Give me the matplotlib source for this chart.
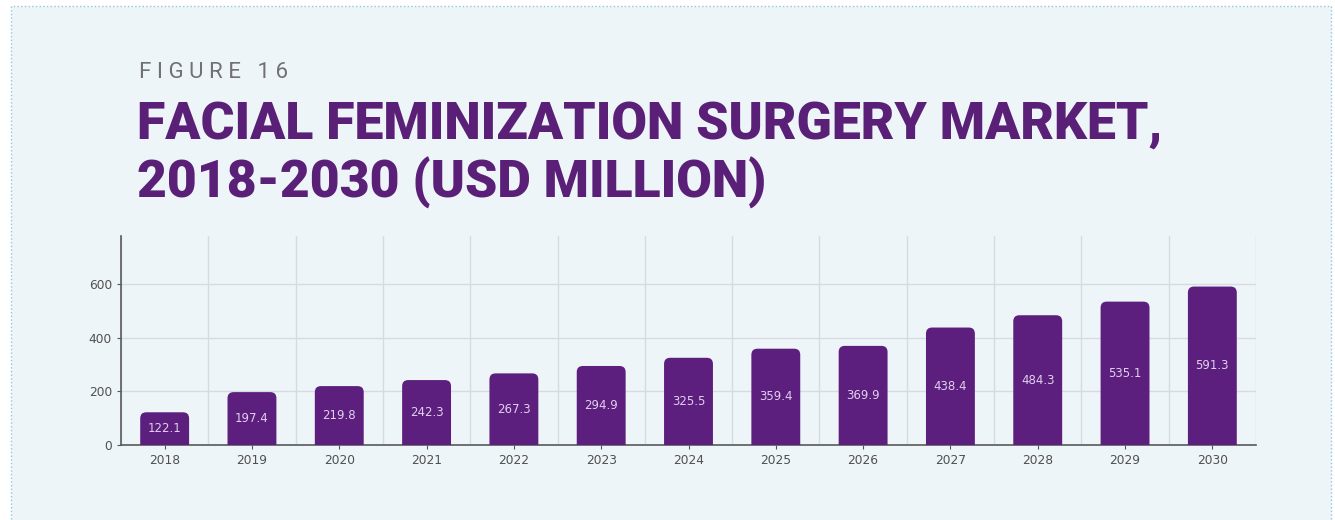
import numpy as np
import matplotlib.pyplot as plt
from matplotlib.patches import FancyBboxPatch, Rectangle

# 数据
years = ['2018', '2019', '2020', '2021', '2022', '2023', '2024',
         '2025', '2026', '2027', '2028', '2029', '2030']
market = [122.1, 197.4, 219.8, 242.3, 267.3, 294.9, 325.5,
          359.4, 369.9, 438.4, 484.3, 535.1, 591.3]
yticks = [0, 200, 400, 600]

purple = '#5c1f7d'
bg = '#eef5f8'

fig = plt.figure(figsize=(13.35, 5.2), dpi=100, facecolor='white')
W, H = 1335, 520

# 背景框
fig.patches.append(Rectangle((11 / W, -0.05), (1331 - 11) / W, (514 + 26) / H,
                             transform=fig.transFigure, facecolor=bg,
                             edgecolor='#8ec8e0', linestyle=':', linewidth=1.0, zorder=-5))

fig.text(139 / W, 1 - 73 / H, 'F I G U R E   1 6', fontsize=16, color='#707075',
         family='Roboto', va='center', ha='left')
fig.text(137 / W, 1 - 125 / H, 'FACIAL FEMINIZATION SURGERY MARKET,', fontsize=37.3,
         color='#5a2078', family='Roboto', weight='black', va='center', ha='left')
fig.text(137 / W, 1 - 183 / H, '2018-2030 (USD MILLION)', fontsize=37.3,
         color='#5a2078', family='Roboto', weight='black', va='center', ha='left')

ax = fig.add_axes([121 / W, 1 - 445 / H, (1256 - 121) / W, (445 - 236) / H])
ax.set_facecolor('none')
x = np.arange(len(years))
bars = ax.bar(x, market, width=0.56, color='none')

ax.set_xlim(-0.5, len(years) - 0.5)
ax.set_ylim(0, 780)

# 圆角柱
aspect = (780 / 209) / (len(years) / 1135)
for b, v in zip(bars, market):
    p = FancyBboxPatch((b.get_x(), -40), b.get_width(), v + 40,
                       boxstyle='round,pad=0,rounding_size=0.07',
                       mutation_aspect=aspect, facecolor=purple, edgecolor='none', zorder=3)
    ax.add_patch(p)
    ax.text(b.get_x() + b.get_width() / 2, v / 2, f'{v:.1f}', ha='center', va='center',
            color='#e2cff0', fontsize=8.5, zorder=4)

ax.set_xticks(x)
ax.set_xticklabels(years)
ax.set_yticks(yticks)
ax.set_xticks(np.arange(-0.5, len(years), 1), minor=True)
ax.grid(axis='x', which='minor', color='#d5dbde', linewidth=1)
ax.grid(axis='y', which='major', color='#d5dbde', linewidth=1)
ax.set_axisbelow(True)
ax.tick_params(axis='x', which='minor', length=0)
ax.tick_params(axis='both', which='major', labelsize=8.8, labelcolor='#505050',
               color='#555555', length=3, width=0.8)
for s in ['top', 'right']:
    ax.spines[s].set_visible(False)
for s in ['left', 'bottom']:
    ax.spines[s].set_color('#5a5a5a')
    ax.spines[s].set_linewidth(1.2)

plt.savefig('out.png', dpi=100, facecolor=fig.get_facecolor())
